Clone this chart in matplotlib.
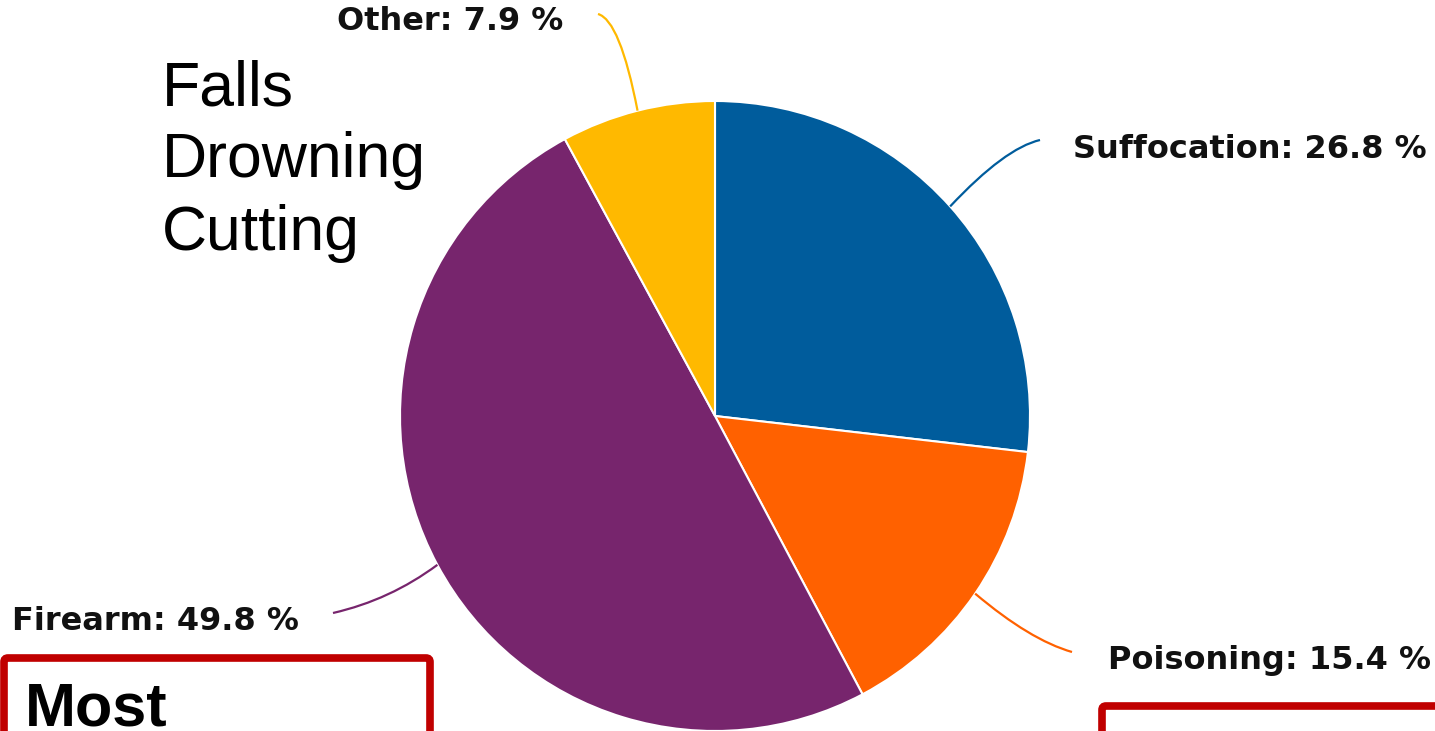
import numpy as np
import matplotlib
matplotlib.use('Agg')
import matplotlib.pyplot as plt
from matplotlib.path import Path
from matplotlib.patches import PathPatch, FancyBboxPatch

# Mechanism shares (percent), clockwise from 12 o'clock
categories = ['Suffocation', 'Poisoning', 'Firearm', 'Other']
shares     = [26.8, 15.4, 49.8, 7.9]
colors     = ['#005c9c', '#ff6100', '#77256d', '#ffb900']
side_notes = ['Falls', 'Drowning', 'Cutting']

W, H = 1435, 731
CX, CY, R = 715, 416, 315

def py(y):
    # pixel row -> data y (y axis points up)
    return H - y

fig = plt.figure(figsize=(W/100, H/100), dpi=100)
ax = fig.add_axes([0, 0, 1, 1])

wedges, _ = ax.pie(shares, colors=colors, startangle=90, counterclock=False,
                   center=(CX, py(CY)), radius=R,
                   wedgeprops=dict(edgecolor='white', linewidth=1.5))

# label text position (left x, center y) and where the leader line ends
label_pos = {'Suffocation': (1073, 150), 'Poisoning': (1108, 661),
             'Firearm': (12, 622), 'Other': (337, 22)}
leader_end = {'Suffocation': (1040, 140), 'Poisoning': (1072, 652),
              'Firearm': (333, 613), 'Other': (598, 14)}
leader_ctrl = {'Suffocation': (1005, 148), 'Poisoning': (1030, 640),
               'Firearm': (390, 600), 'Other': (620, 20)}

cum = 0.0
tot = sum(shares)
for name, val, col in zip(categories, shares, colors):
    mid = 90 - (cum + val/2) / tot * 360
    cum += val
    sx = CX + R*np.cos(np.radians(mid))
    sy = CY - R*np.sin(np.radians(mid))
    ex, ey = leader_end[name]
    cx, cy = leader_ctrl[name]
    path = Path([(sx, py(sy)), (cx, py(cy)), (ex, py(ey))],
                [Path.MOVETO, Path.CURVE3, Path.CURVE3])
    ax.add_patch(PathPatch(path, facecolor='none', edgecolor=col, lw=1.6))
    lx, ly = label_pos[name]
    ax.text(lx, py(ly), f'{name}: {val} %', fontsize=23, fontweight='bold',
            family='DejaVu Sans', color='#111111', ha='left', va='center')

# list of the smaller mechanisms
for note, base in zip(side_notes, [105, 177, 250]):
    ax.text(162, py(base), note, fontsize=45, family='Liberation Sans',
            ha='left', va='baseline', color='black')

# red call-out boxes running off the bottom edge
for x0, y0, x1 in [(4, 658, 430), (1102, 706, 1460)]:
    ax.add_patch(FancyBboxPatch((x0, py(H + 60)), x1 - x0, (H + 60) - y0,
                                boxstyle='round,pad=0,rounding_size=4',
                                facecolor='none', edgecolor='#c00000', lw=5.5))

ax.text(25, py(725), 'Most', fontsize=44, fontweight='bold',
        family='Liberation Sans', ha='left', va='baseline', color='black')

ax.set_xlim(0, W)
ax.set_ylim(0, H)
ax.set_aspect('equal')
ax.axis('off')

fig.savefig('out.png', dpi=100)
